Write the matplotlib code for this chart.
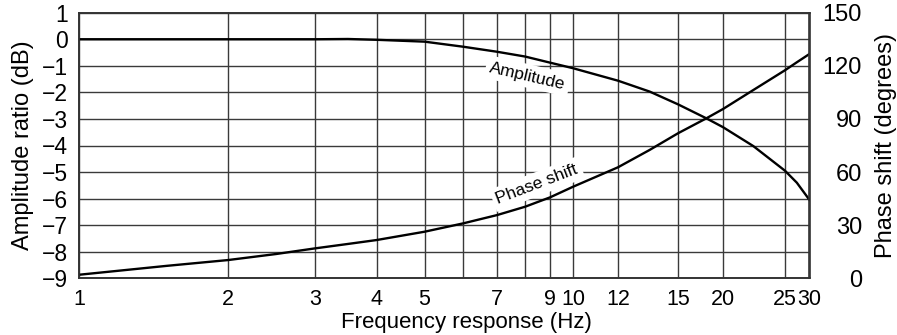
import numpy as np
import matplotlib
matplotlib.use("Agg")
import matplotlib.pyplot as plt

plt.rcParams['font.family'] = ['Liberation Sans', 'DejaVu Sans']

# values
freq = [1, 1.5, 2, 2.5, 3, 3.5, 4, 5, 6, 7, 8, 9, 10, 12, 13.5, 15, 18, 20, 22.3, 25, 27.3, 30]
amp_db = [0, 0, 0, 0, 0, 0.01, -0.02, -0.09, -0.28, -0.47, -0.65, -0.88, -1.09,
          -1.56, -1.97, -2.45, -2.98, -3.31, -4.02, -4.95, -5.4, -6.05]
phase_deg = [2, 7, 10.3, 13.7, 16.9, 19.4, 21.6, 26.3, 31, 35.7, 40.4, 45.7, 51.7,
             62.7, 72.5, 81.9, 90.4, 95.6, 106.3, 117.5, 122, 126.7]

xtick_vals = [1, 2, 3, 4, 5, 7, 9, 10, 12, 15, 20, 25, 30]
xminor_vals = [6, 8]
ytick_left = [1, 0, -1, -2, -3, -4, -5, -6, -7, -8, -9]
ytick_right = [0, 30, 60, 90, 120, 150]

# the printed frequency axis is only roughly logarithmic: warp it piecewise
knot_f = np.array([1, 2, 3, 4, 5, 6, 7, 8, 9, 10, 12, 15, 20, 25, 30])
knot_px = np.array([79, 228, 315, 376.5, 424.5, 463, 497, 525, 550, 573,
                    618, 678, 723, 785, 809.5])
knot_u = (knot_px - knot_px[0]) / (knot_px[-1] - knot_px[0])
knot_l = np.log10(knot_f)

def fwd(x):
    x = np.clip(np.asarray(x, dtype=float), 1e-3, None)
    return np.interp(np.log10(x), knot_l, knot_u)

def inv(u):
    return 10 ** np.interp(u, knot_u, knot_l)

fig = plt.figure(figsize=(8.97, 3.35), dpi=100)
ax = fig.add_axes([79/897, (335-278.3)/335, 730.5/897, 265.6/335])
ax.set_xscale('function', functions=(fwd, inv))
ax.set_xlim(1, 30)
ax.set_ylim(-9, 1)

ax.set_xticks(xtick_vals)
ax.set_xticklabels([str(v) for v in xtick_vals])
ax.set_xticks(xminor_vals, minor=True)
ax.set_xticklabels([], minor=True)
ax.set_yticks(ytick_left)
ax.set_yticklabels([str(v).replace('-', '\u2212') for v in ytick_left])
ax.grid(True, which='both', color='#3a3a3a', lw=1.0)
ax.set_axisbelow(True)
ax.tick_params(which='both', length=0, labelsize=16.5)
ax.tick_params(axis='y', pad=8)
ax.tick_params(axis='x', pad=7.5, labelsize=15.5)

ax.plot(freq, amp_db, color='black', lw=1.7, zorder=5)

ax.set_xlabel('Frequency response (Hz)', fontsize=16)
ax.xaxis.set_label_coords(0.531, -0.127)
ax.set_ylabel('Amplitude ratio (dB)', fontsize=17)
ax.yaxis.set_label_coords(-0.062, 0.5)

ax.text(8.1, -1.38, 'Amplitude', rotation=-13, fontsize=12.5, ha='center', va='center',
        rotation_mode='anchor', zorder=4,
        bbox=dict(facecolor='white', edgecolor='none', pad=3))
ax.text(8.47, -5.45, 'Phase shift', rotation=21, fontsize=12.5, ha='center', va='center',
        rotation_mode='anchor', zorder=4,
        bbox=dict(facecolor='white', edgecolor='none', pad=3))

ax2 = ax.twinx()
ax2.set_ylim(0, 150)
ax2.set_yticks(ytick_right)
ax2.tick_params(length=0, labelsize=17, pad=37.8)
for lab in ax2.get_yticklabels():
    lab.set_horizontalalignment('right')
ax2.plot(freq, phase_deg, color='black', lw=1.7)
ax2.set_ylabel('Phase shift (degrees)', fontsize=17)
ax2.yaxis.set_label_coords(1.09, 0.5)

for a in (ax, ax2):
    for s in a.spines.values():
        s.set_color('#333333')
        s.set_linewidth(1.2)

fig.savefig('out.png', dpi=100)
